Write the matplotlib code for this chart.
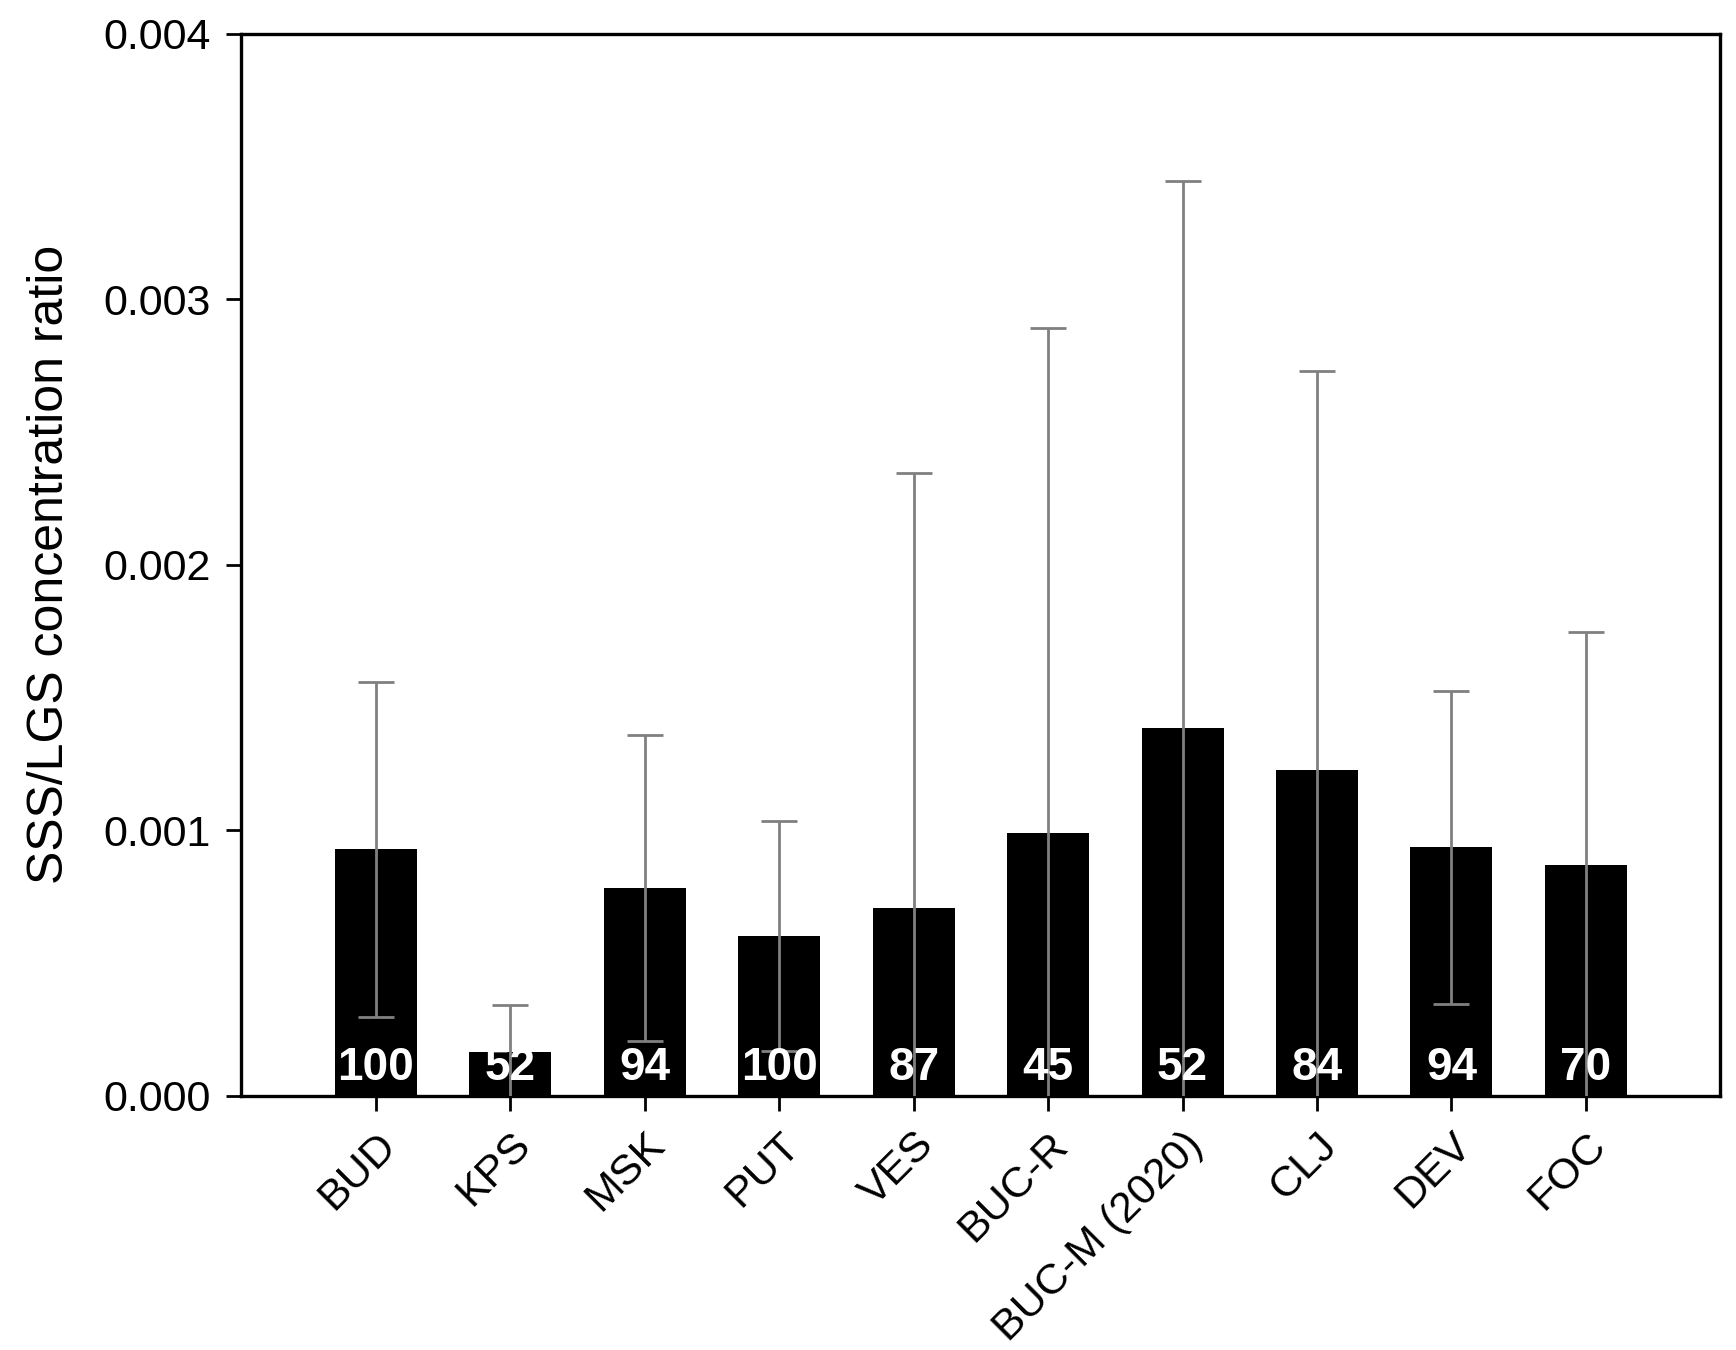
import matplotlib
matplotlib.use("Agg")
import matplotlib.pyplot as plt
from matplotlib.ticker import FormatStrFormatter

# Data
sites = ["BUD", "KPS", "MSK", "PUT", "VES", "BUC-R", "BUC-M (2020)", "CLJ", "DEV", "FOC"]
ratio_mean = [0.000927, 0.000163, 0.000781, 0.000601, 0.000706,
              0.000990, 0.001386, 0.001228, 0.000935, 0.000868]
ratio_sd = [0.000630, 0.000179, 0.000576, 0.000434, 0.001640,
            0.001900, 0.002060, 0.001500, 0.000589, 0.000880]
n_labels = ["100", "52", "94", "100", "87", "45", "52", "84", "94", "70"]

plt.rcParams["font.family"] = ["Liberation Sans", "DejaVu Sans"]

fig = plt.figure(figsize=(17.36, 13.5), dpi=100)
ax = fig.add_axes([0.139, 0.1885, 0.852, 0.7865])

x = list(range(1, len(sites) + 1))
ax.bar(x, ratio_mean, width=0.61, color="black", zorder=2)
ax.errorbar(x, ratio_mean, yerr=ratio_sd, fmt="none", ecolor="#808080",
            elinewidth=2.0, capsize=13, capthick=2.0, zorder=3)

# n per site, white on the bars
for xi, lab in zip(x, n_labels):
    ax.text(xi, 0.00002, lab, ha="center", va="bottom", color="white",
            fontsize=33, fontweight="bold", zorder=4)

ax.set_xlim(0, 11)
ax.set_ylim(0, 0.004)
ax.set_yticks([0, 0.001, 0.002, 0.003, 0.004])
ax.yaxis.set_major_formatter(FormatStrFormatter("%.3f"))
ax.set_xticks(x)
ax.set_xticklabels(sites, rotation=45, ha="right", rotation_mode="anchor")

ax.set_ylabel("SSS/LGS concentration ratio", fontsize=36, labelpad=22)
ax.tick_params(axis="both", direction="out", length=11, width=2,
               labelsize=31, pad=11)
ax.tick_params(axis="x", pad=10)
for side in ax.spines.values():
    side.set_linewidth(2.4)

fig.savefig("out.png", dpi=100)
plt.close(fig)
